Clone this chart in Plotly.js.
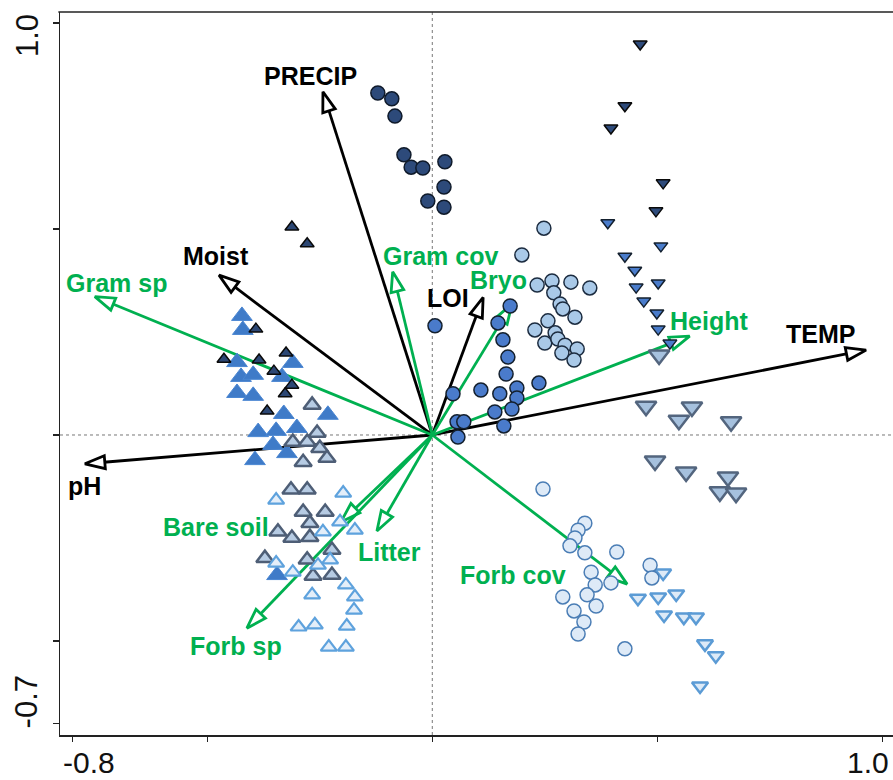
<!DOCTYPE html>
<html><head><meta charset="utf-8">
<script src="https://cdn.plot.ly/plotly-3.0.1.min.js"></script>
<style>html,body{margin:0;padding:0;background:#fff}#chart{width:893px;height:780px}</style>
</head><body><div id="chart"></div>
<script>
// Environmental vectors (black)
const envNames = ['PRECIP', 'Moist', 'LOI', 'TEMP', 'pH'];
const envX = [-0.243, -0.474, 0.113, 0.964, -0.772];
const envY = [0.833, 0.388, 0.334, 0.206, -0.070];
// Vegetation vectors (green)
const vegNames = ['Gram sp', 'Gram cov', 'Bryo', 'Height', 'Forb cov', 'Litter', 'Bare soil', 'Forb sp'];
const vegX = [-0.750, -0.088, 0.177, 0.572, 0.433, -0.123, -0.203, -0.412];
const vegY = [0.336, 0.396, 0.318, 0.240, -0.362, -0.233, -0.211, -0.469];

// Site scores, one pair of arrays per symbol group
const circDarkX = [-0.121, -0.090, -0.083, -0.063, -0.047, -0.021, 0.028, 0.026, -0.010, 0.026];
const circDarkY = [0.830, 0.816, 0.774, 0.680, 0.650, 0.648, 0.663, 0.602, 0.568, 0.553];
const circMidX = [0.006, 0.173, 0.146, 0.157, 0.168, 0.164, 0.237, 0.188, 0.108, 0.150, 0.188, 0.046, 0.177, 0.139, 0.159, 0.055, 0.070, 0.057];
const circMidY = [0.265, 0.313, 0.272, 0.231, 0.189, 0.148, 0.126, 0.114, 0.109, 0.100, 0.090, 0.100, 0.063, 0.056, 0.022, 0.032, 0.032, -0.005];
const circLightX = [0.248, 0.199, 0.233, 0.266, 0.308, 0.350, 0.270, 0.284, 0.290, 0.317, 0.257, 0.228, 0.273, 0.250, 0.279, 0.295, 0.322, 0.288, 0.315];
const circLightY = [0.502, 0.437, 0.364, 0.374, 0.371, 0.357, 0.345, 0.318, 0.306, 0.286, 0.277, 0.255, 0.248, 0.223, 0.233, 0.218, 0.209, 0.199, 0.182];
const circPaleX = [0.246, 0.339, 0.324, 0.317, 0.306, 0.339, 0.410, 0.353, 0.362, 0.397, 0.344, 0.290, 0.364, 0.315, 0.337, 0.324, 0.484, 0.488, 0.428];
const circPaleY = [-0.131, -0.214, -0.231, -0.250, -0.269, -0.286, -0.284, -0.333, -0.364, -0.359, -0.388, -0.393, -0.415, -0.427, -0.454, -0.483, -0.316, -0.347, -0.519];

const triDnDarkX = [0.462, 0.428, 0.397, 0.513, 0.497];
const triDnDarkY = [0.949, 0.799, 0.745, 0.612, 0.544];
const triDnMidX = [0.390, 0.508, 0.428, 0.450, 0.502, 0.453, 0.470, 0.499, 0.502, 0.528];
const triDnMidY = [0.515, 0.459, 0.434, 0.400, 0.369, 0.359, 0.325, 0.296, 0.257, 0.223];
const triDnGreyX = [0.504, 0.475, 0.577, 0.548, 0.664, 0.495, 0.564, 0.657, 0.639, 0.675];
const triDnGreyY = [0.194, 0.070, 0.068, 0.036, 0.032, -0.063, -0.090, -0.102, -0.138, -0.141];
const triDnPaleX = [0.513, 0.457, 0.502, 0.542, 0.515, 0.559, 0.586, 0.606, 0.630, 0.595];
const triDnPaleY = [-0.335, -0.396, -0.393, -0.386, -0.437, -0.442, -0.442, -0.507, -0.536, -0.609];

const triUpDarkX = [-0.312, -0.278, -0.392, -0.463, -0.385, -0.325, -0.352, -0.312, -0.327, -0.367];
const triUpDarkY = [0.505, 0.464, 0.257, 0.184, 0.182, 0.199, 0.155, 0.121, 0.100, 0.058];
const triUpMidX = [-0.423, -0.421, -0.434, -0.425, -0.398, -0.434, -0.398, -0.310, -0.334, -0.330, -0.301, -0.387, -0.347, -0.354, -0.323, -0.394, -0.232, -0.345];
const triUpMidY = [0.289, 0.255, 0.177, 0.141, 0.146, 0.102, 0.095, 0.175, 0.141, 0.051, 0.017, 0.007, 0.010, -0.024, -0.044, -0.061, 0.049, -0.340];
const triUpGreyX = [-0.310, -0.267, -0.256, -0.278, -0.250, -0.287, -0.234, -0.314, -0.278, -0.287, -0.238, -0.343, -0.312, -0.272, -0.272, -0.372, -0.278, -0.223, -0.265, -0.223];
const triUpGreyY = [-0.017, 0.073, 0.005, -0.017, -0.032, -0.066, -0.056, -0.133, -0.133, -0.187, -0.187, -0.235, -0.250, -0.214, -0.248, -0.299, -0.303, -0.279, -0.342, -0.340];
const triUpPaleX = [-0.347, -0.198, -0.347, -0.310, -0.297, -0.243, -0.205, -0.172, -0.254, -0.227, -0.192, -0.172, -0.174, -0.267, -0.261, -0.190, -0.230, -0.192];
const triUpPaleY = [-0.158, -0.141, -0.311, -0.333, -0.466, -0.235, -0.211, -0.231, -0.316, -0.303, -0.364, -0.393, -0.425, -0.388, -0.461, -0.464, -0.515, -0.515];

// Label placement (data units) – layout only
const envLabelX = [-0.270, -0.481, 0.035, 0.862, -0.772];
const envLabelY = [0.871, 0.434, 0.333, 0.245, -0.124];
const vegLabelX = [-0.701, 0.019, 0.148, 0.615, 0.179, -0.096, -0.481, -0.436];
const vegLabelY = [0.369, 0.434, 0.376, 0.277, -0.340, -0.284, -0.223, -0.512];

const BLACK = '#000000';
const GREEN = '#00B050';
const FONT = 'Liberation Sans, Arial, Helvetica, sans-serif';

function arrowTrace(x, y, color) {
  return {
    type: 'scatter', mode: 'lines+markers', x: [0, x], y: [0, y],
    hoverinfo: 'skip', showlegend: false, cliponaxis: false,
    line: {color: color, width: 2.8},
    marker: {symbol: 'arrow', size: [0, 21], angleref: 'previous', color: 'white', opacity: 1,
             line: {color: color, width: 2.8}}
  };
}
function pts(x, y, symbol, size, fill, lineColor, lineWidth) {
  return {
    type: 'scatter', mode: 'markers', x: x, y: y, hoverinfo: 'skip', showlegend: false,
    marker: {symbol: symbol, size: size, color: fill, line: {color: lineColor, width: lineWidth}}
  };
}

const traces = [];
envX.forEach((v, i) => traces.push(arrowTrace(v, envY[i], BLACK)));
vegX.forEach((v, i) => traces.push(arrowTrace(v, vegY[i], GREEN)));

traces.push(pts(triUpMidX, triUpMidY, 'triangle-up', 18, '#3F7BC8', '#4A86D2', 1));
traces.push(pts(triUpGreyX, triUpGreyY, 'triangle-up', 15, '#B6CBE3', '#4E5E76', 2.5));
traces.push(pts(triUpPaleX, triUpPaleY, 'triangle-up', 14, '#E4EEF9', '#5EA2DD', 2.2));
traces.push(pts(triUpDarkX, triUpDarkY, 'triangle-up', 12, '#2C4774', '#0A0A0A', 1.5));
traces.push(pts(triDnGreyX, triDnGreyY, 'triangle-down', 18, '#A6C1DE', '#53657E', 2.5));
traces.push(pts(triDnPaleX, triDnPaleY, 'triangle-down', 14, '#DDEAF7', '#5B9BD5', 2.5));
traces.push(pts(triDnDarkX, triDnDarkY, 'triangle-down', 12, '#2E4B7B', '#0A0A0A', 1.5));
traces.push(pts(triDnMidX, triDnMidY, 'triangle-down', 12, '#4A7CCB', '#14202E', 1.5));
traces.push(pts(circPaleX, circPaleY, 'circle', 14, '#DEEAF7', '#4A7DB5', 1.5));
traces.push(pts(circLightX, circLightY, 'circle', 14, '#A9C9E8', '#1C2C40', 1.5));
traces.push(pts(circMidX, circMidY, 'circle', 14, '#4A7BCB', '#14202E', 1.5));
traces.push(pts(circDarkX, circDarkY, 'circle', 14, '#2D4A7A', '#0F1A2A', 1.5));

const annotations = [];
envNames.forEach((n, i) => annotations.push({
  x: envLabelX[i], y: envLabelY[i], xref: 'x', yref: 'y', text: '<b>' + n + '</b>',
  showarrow: false, xanchor: 'center', yanchor: 'middle',
  font: {family: FONT, size: 25, color: BLACK}
}));
vegNames.forEach((n, i) => annotations.push({
  x: vegLabelX[i], y: vegLabelY[i], xref: 'x', yref: 'y', text: '<b>' + n + '</b>',
  showarrow: false, xanchor: 'center', yanchor: 'middle',
  font: {family: FONT, size: 25, color: GREEN}
}));
const tickFont = {family: FONT, size: 30, color: '#111'};
annotations.push({xref: 'x', yref: 'paper', x: -0.8, y: 0, xshift: 17, yshift: -27, text: '-0.8', showarrow: false, xanchor: 'center', yanchor: 'middle', font: tickFont});
annotations.push({xref: 'x', yref: 'paper', x: 1.0, y: 0, xshift: -14, yshift: -27, text: '1.0', showarrow: false, xanchor: 'center', yanchor: 'middle', font: tickFont});
annotations.push({xref: 'paper', yref: 'y', x: 0, y: 1.0, xshift: -33, yshift: -13, textangle: -90, text: '1.0', showarrow: false, xanchor: 'center', yanchor: 'middle', font: {family: FONT, size: 31, color: '#111'}});
annotations.push({xref: 'paper', yref: 'y', x: 0, y: -0.7, xshift: -34, yshift: 21, textangle: -90, text: '-0.7', showarrow: false, xanchor: 'center', yanchor: 'middle', font: {family: FONT, size: 31, color: '#111'}});

const layout = {
  width: 893, height: 780,
  margin: {l: 60, r: 0, t: 12, b: 45},
  paper_bgcolor: 'white', plot_bgcolor: 'white', showlegend: false,
  xaxis: {range: [-0.8273, 1.0238], tickvals: [-0.8, -0.5, 0, 0.5, 1.0], ticktext: ['', '', '', '', ''],
          ticks: 'outside', ticklen: 5, tickwidth: 1.5, tickcolor: '#222', showline: true, linecolor: '#222',
          linewidth: 1.5, showgrid: false, zeroline: false, fixedrange: true},
  yaxis: {range: [-0.7282, 1.0267], tickvals: [-0.7, -0.5, 0, 0.5, 1.0], ticktext: ['', '', '', '', ''],
          ticks: 'outside', ticklen: 6, tickwidth: 1.5, tickcolor: '#222', showline: true, linecolor: '#222',
          linewidth: 1.5, showgrid: false, zeroline: false, fixedrange: true},
  shapes: [
    {type: 'line', xref: 'paper', yref: 'paper', x0: -0.002, x1: 1.01, y0: 1, y1: 1, line: {color: '#222', width: 1.5}},
    {type: 'line', xref: 'x', yref: 'paper', x0: 0, x1: 0, y0: 0, y1: 1, layer: 'below', line: {color: '#777', width: 1, dash: 'dot'}},
    {type: 'line', xref: 'paper', yref: 'y', x0: 0, x1: 1, y0: 0, y1: 0, layer: 'below', line: {color: '#777', width: 1, dash: 'dot'}}
  ],
  annotations: annotations
};

Plotly.newPlot('chart', traces, layout, {displayModeBar: false, staticPlot: true});
</script>
</body></html>
